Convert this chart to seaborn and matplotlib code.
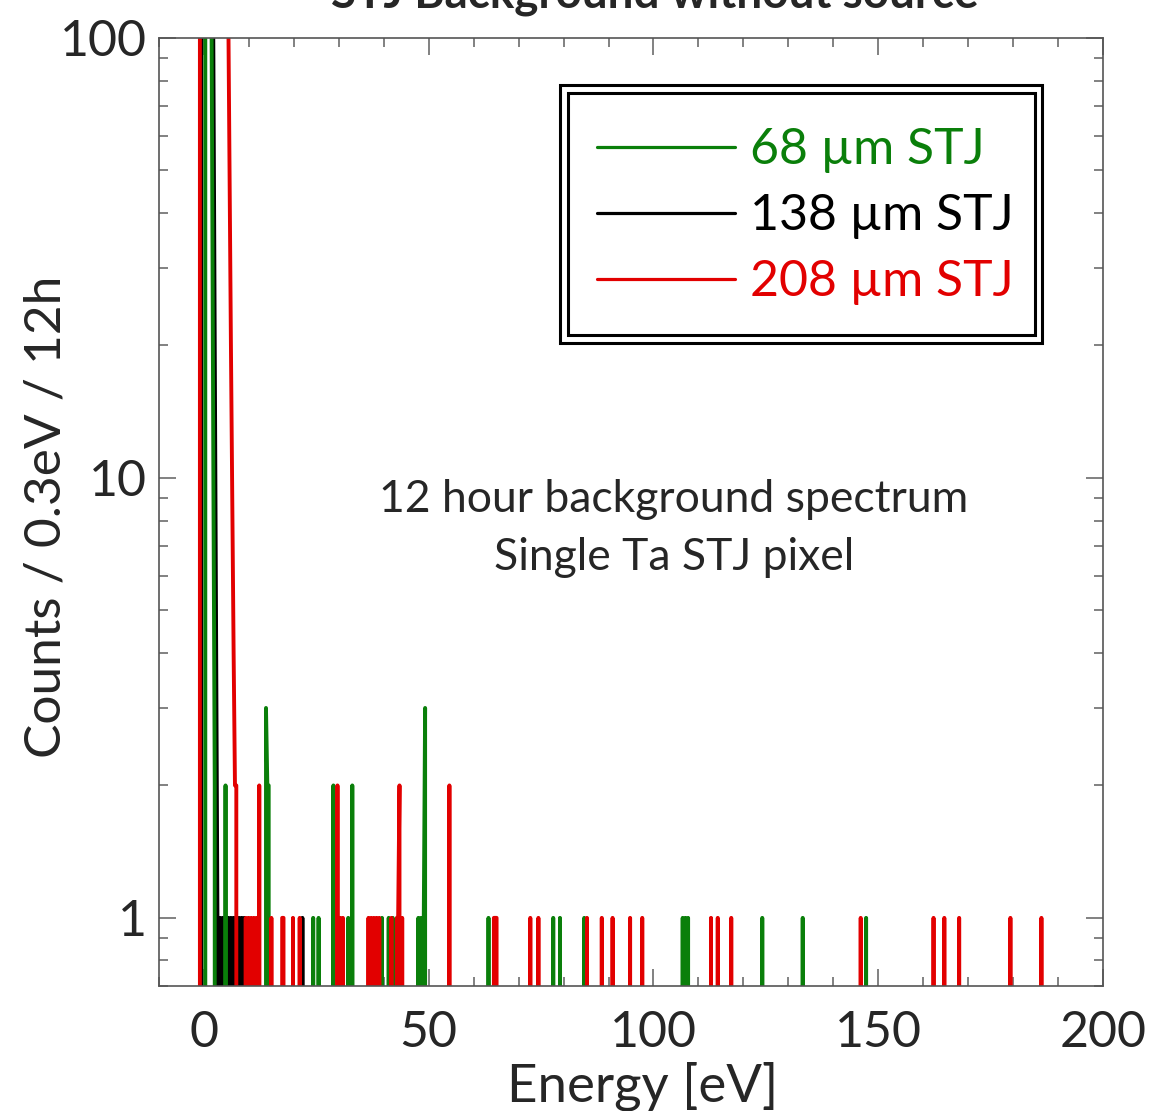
import numpy as np
import pandas as pd
import matplotlib
matplotlib.use("Agg")
import matplotlib.pyplot as plt
import seaborn as sns
from matplotlib.lines import Line2D
from matplotlib.patches import Rectangle
from matplotlib.ticker import FixedLocator, FixedFormatter, LogLocator, NullFormatter, MultipleLocator

# ---------------- data (non-empty 0.3 eV bins: energy [eV], counts) ----------------
labels = ["68 µm STJ", "138 µm STJ", "208 µm STJ"]
colors = ["#0a7f0a", "#000000", "#e20000"]

green_E = [0.3, 0.6, 0.9, 1.2, 1.5, 1.8, 2.1, 2.4,
           4.8, 13.8, 14.1, 14.4, 24.3, 25.5, 28.8, 32.1, 33.0, 39.6, 41.1, 42.0,
           47.7, 48.3, 48.9, 49.2, 63.3, 77.7, 79.2, 84.6, 106.5, 107.1, 107.7,
           124.2, 133.2, 147.3]
green_C = [400, 900, 1200, 800, 300, 60, 10, 2,
           2, 3, 2, 2, 1, 1, 2, 1, 2, 1, 1, 1,
           1, 1, 1, 3, 1, 1, 1, 1, 1, 1, 1,
           1, 1, 1]

black_E = [-0.6, -0.3, 0.0, 0.3, 0.6, 0.9, 1.2, 1.5, 1.8, 2.1, 2.4, 2.7, 3.0,
           3.6, 4.2, 4.8, 5.4, 6.0, 6.6, 7.2, 7.8, 8.4, 9.0, 21.9]
black_C = [600, 1500, 2000, 1500, 1000, 800, 600, 400, 300, 90, 20, 5, 1,
           1, 1, 1, 1, 1, 1, 1, 1, 1, 1, 1]

red_E = [-0.9, -0.6, -0.3, 0.0, 0.3, 0.6, 0.9, 1.2, 1.5, 1.8, 2.1, 2.4, 2.7, 3.0,
         3.3, 3.6, 3.9, 4.2, 4.5, 4.8, 5.1, 5.4, 5.7, 6.0, 6.3, 6.6, 6.9, 7.2,
         9.3, 9.9, 10.5, 11.1, 11.7, 12.3, 15.0, 17.4, 17.7, 19.8, 21.3,
         29.7, 30.3, 30.9, 36.6, 37.2, 37.8, 38.4, 39.0,
         41.7, 42.9, 43.2, 43.5, 44.1, 54.6, 64.5, 64.8, 65.1,
         72.6, 74.4, 85.2, 88.5, 90.9, 94.8, 97.5, 112.8, 114.3, 117.3,
         146.1, 162.3, 164.7, 168.0, 179.4, 186.3]
red_C = [700, 2100, 3600, 4200, 3900, 3200, 2600, 2100, 1700, 1400, 1150, 950, 800, 680,
         580, 500, 440, 390, 350, 320, 300, 120, 50, 20, 9, 4, 2, 2,
         1, 1, 1, 1, 1, 2, 1, 1, 1, 1, 1,
         2, 1, 1, 1, 1, 1, 1, 1,
         1, 1, 1, 2, 1, 2, 1, 1, 1,
         1, 1, 1, 1, 1, 1, 1, 1, 1, 1,
         1, 1, 1, 1, 1, 1]

bin_width = 0.3
E_start, E_stop = -10.2, 200.1

# ---------------- build histogram table ----------------
grid = np.round(np.arange(E_start, E_stop, bin_width), 2)
frames = []
for lab, E, C in zip(labels, [green_E, black_E, red_E], [green_C, black_C, red_C]):
    cnt = np.zeros_like(grid)
    idx = np.rint((np.array(E) - E_start) / bin_width).astype(int)
    cnt[idx] = C
    frames.append(pd.DataFrame({"Energy": grid, "Counts": cnt, "det": lab}))
df = pd.concat(frames, ignore_index=True)

# ---------------- style ----------------
sns.set_style("ticks")
plt.rcParams["font.family"] = ["Lato", "DejaVu Sans"]

W, H = 1152, 1111
fig = plt.figure(figsize=(W / 100, H / 100), dpi=100)
ax = fig.add_axes([159 / W, 1 - 986 / H, (1103 - 159) / W, (986 - 38) / H])

palette = dict(zip(labels, colors))
sns.lineplot(data=df, x="Energy", y="Counts", hue="det",
             hue_order=["138 µm STJ", "68 µm STJ", "208 µm STJ"],
             palette=palette, estimator=None, sort=False,
             linewidth=2.8, legend=False, ax=ax)

ax.set_yscale("log", nonpositive="clip")
ax.set_xlim(-10, 200)
ax.set_ylim(0.7, 100)

ax.xaxis.set_major_locator(MultipleLocator(50))
ax.xaxis.set_minor_locator(MultipleLocator(10))
ax.yaxis.set_major_locator(FixedLocator([1, 10, 100]))
ax.yaxis.set_major_formatter(FixedFormatter(["1", "10", "100"]))
ax.yaxis.set_minor_locator(LogLocator(base=10, subs=np.arange(2, 10)))
ax.yaxis.set_minor_formatter(NullFormatter())

ax.tick_params(which="both", direction="in", top=True, right=True,
               color="#777777", width=1.3)
ax.tick_params(which="major", length=12, labelsize=36)
ax.tick_params(which="minor", length=6.5)
ax.tick_params(axis="y", which="major", pad=9)
ax.tick_params(axis="x", which="major", pad=17)
for s in ax.spines.values():
    s.set_color("#555555")
    s.set_linewidth(1.2)

ax.set_xlabel("Energy [eV]", fontsize=38, labelpad=4)
ax.xaxis.label.set_x((643 - 159) / 944)
ax.set_ylabel("Counts / 0.3eV / 12h", fontsize=37)
ax.yaxis.set_label_coords((70 - 159) / 944, 0.495)

ax.text(0.5456, 0.5127, "12 hour background spectrum", transform=ax.transAxes,
        ha="center", va="center", fontsize=32)
ax.text(0.5456, 0.4525, "Single Ta STJ pixel", transform=ax.transAxes,
        ha="center", va="center", fontsize=32)

# title (cut off by the top of the figure in the reference)
fig.text(0.568, 1 - 8 / H, "STJ Background without source", ha="center",
         va="baseline", fontsize=33, fontweight="bold")

# legend
order = [0, 1, 2]
handles = [Line2D([0], [0], color=colors[i], lw=2.3) for i in order]
leg = ax.legend(handles, [labels[i] for i in order], loc="upper left",
                bbox_to_anchor=(597 / W, 1 - 127 / H), bbox_transform=fig.transFigure,
                frameon=False, fontsize=36, handlelength=2.75, handletextpad=0.3,
                labelspacing=0.4, borderpad=0, borderaxespad=0)
for t, i in zip(leg.get_texts(), order):
    t.set_color(colors[i])

for (x0, y0, x1, y1) in [(560, 85, 1042, 343), (568, 93, 1035, 335)]:
    fig.patches.append(Rectangle((x0 / W, 1 - y1 / H), (x1 - x0) / W, (y1 - y0) / H,
                                 transform=fig.transFigure, fill=False,
                                 edgecolor="black", linewidth=2.2, zorder=5))

fig.savefig("out.png", dpi=100, facecolor="white")
